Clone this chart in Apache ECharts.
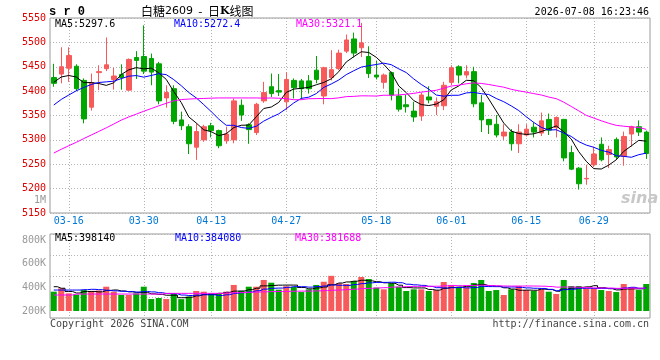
<!DOCTYPE html>
<html>
<head>
<meta charset="utf-8">
<script src="https://cdn.jsdelivr.net/npm/echarts@6/dist/echarts.min.js"></script>
<style>
  html, body { margin: 0; padding: 0; background: #fff; }
  #chart { width: 660px; height: 360px; }
</style>
</head>
<body>
<div id="chart"></div>
<script>
// trading days shown on the chart
const dates = [
  '03-12', '03-13', '03-16', '03-17', '03-18', '03-19', '03-20', '03-23', '03-24', '03-25', '03-26', '03-27',
  '03-30', '03-31', '04-01', '04-02', '04-03', '04-07', '04-08', '04-09', '04-10',
  '04-13', '04-14', '04-15', '04-16', '04-17', '04-20', '04-21', '04-22', '04-23', '04-24',
  '04-27', '04-28', '04-29', '04-30', '05-06', '05-07', '05-08', '05-11', '05-12', '05-13', '05-14', '05-15',
  '05-18', '05-19', '05-20', '05-21', '05-22', '05-25', '05-26', '05-27', '05-28', '05-29',
  '06-01', '06-02', '06-03', '06-04', '06-05', '06-08', '06-09', '06-10', '06-11', '06-12',
  '06-15', '06-16', '06-17', '06-18', '06-22', '06-23', '06-24', '06-25', '06-26',
  '06-29', '06-30', '07-01', '07-02', '07-03', '07-06', '07-07', '07-08'
];
const tickDates = ['03-16', '03-30', '04-13', '04-27', '05-18', '06-01', '06-15', '06-29'];

const open = [
  5428, 5435, 5447, 5451, 5422, 5367, 5438, 5446, 5424, 5434,
  5402, 5469, 5471, 5467, 5456, 5386, 5405, 5341, 5327, 5285,
  5300, 5329, 5319, 5298, 5300, 5371, 5331, 5315, 5380, 5409,
  5401, 5378, 5422, 5421, 5421, 5443, 5390, 5428, 5446, 5482,
  5507, 5489, 5471, 5433, 5418, 5438, 5390, 5372, 5359, 5349,
  5388, 5369, 5370, 5418, 5450, 5433, 5440, 5376, 5342, 5332,
  5308, 5316, 5292, 5310, 5326, 5314, 5342, 5325, 5342, 5274,
  5242, 5220, 5249, 5291, 5270, 5301, 5266, 5312, 5327, 5316
];
const close = [
  5416, 5450, 5473, 5405, 5343, 5417, 5440, 5454, 5431, 5428,
  5465, 5463, 5441, 5439, 5380, 5397, 5338, 5329, 5292, 5317,
  5327, 5319, 5288, 5312, 5380, 5351, 5321, 5373, 5397, 5395,
  5398, 5424, 5407, 5405, 5405, 5424, 5448, 5444, 5478, 5505,
  5478, 5499, 5436, 5429, 5433, 5392, 5363, 5368, 5347, 5392,
  5382, 5378, 5412, 5448, 5433, 5440, 5374, 5341, 5331, 5310,
  5316, 5292, 5316, 5322, 5316, 5339, 5320, 5346, 5263, 5240,
  5210, 5221, 5271, 5259, 5280, 5265, 5307, 5327, 5316, 5272
];
const low = [
  5409, 5416, 5419, 5400, 5334, 5360, 5402, 5441, 5403, 5403,
  5401, 5425, 5435, 5412, 5373, 5366, 5332, 5320, 5271, 5259,
  5296, 5305, 5283, 5292, 5293, 5339, 5292, 5310, 5376, 5388,
  5390, 5361, 5385, 5383, 5395, 5416, 5373, 5422, 5443, 5478,
  5469, 5470, 5427, 5424, 5405, 5381, 5358, 5356, 5337, 5339,
  5375, 5351, 5361, 5412, 5416, 5426, 5367, 5316, 5312, 5305,
  5300, 5278, 5273, 5307, 5305, 5308, 5310, 5305, 5256, 5238,
  5198, 5208, 5244, 5256, 5242, 5259, 5247, 5286, 5308, 5261
];
const high = [
  5456, 5490, 5490, 5455, 5426, 5436, 5453, 5510, 5448, 5455,
  5467, 5482, 5535, 5477, 5460, 5412, 5412, 5358, 5332, 5334,
  5331, 5335, 5321, 5327, 5385, 5383, 5334, 5376, 5419, 5436,
  5435, 5439, 5426, 5425, 5433, 5472, 5450, 5484, 5485, 5516,
  5520, 5540, 5492, 5462, 5436, 5440, 5405, 5392, 5378, 5397,
  5410, 5387, 5419, 5453, 5453, 5453, 5450, 5392, 5343, 5351,
  5332, 5322, 5332, 5332, 5336, 5356, 5354, 5348, 5343, 5288,
  5244, 5249, 5286, 5305, 5288, 5305, 5317, 5329, 5340, 5319
];
const volume = [
  363000, 392000, 349000, 339000, 377000, 369000, 373000, 405000, 363000, 335000,
  335000, 349000, 405000, 301000, 310000, 301000, 349000, 300000, 322000, 369000,
  363000, 349000, 344000, 363000, 420000, 369000, 405000, 405000, 462000, 439000,
  380000, 409000, 403000, 360000, 383000, 420000, 447000, 497000, 434000, 428000,
  453000, 487000, 470000, 397000, 383000, 434000, 405000, 369000, 383000, 383000,
  369000, 377000, 445000, 420000, 400000, 400000, 436000, 462000, 369000, 377000,
  335000, 383000, 411000, 377000, 369000, 383000, 363000, 344000, 462000, 411000,
  411000, 392000, 392000, 377000, 369000, 360000, 428000, 400000, 377000, 428000
];

// moving-average values at the left edge (they depend on days before the chart)
const ma5Head = [5418, 5429, 5432, 5429];
const ma10Head = [5371.5, 5383, 5392, 5400.7, 5407.5, 5413.6, 5417.7, 5419, 5420.4];
const ma30Head = [
  5273, 5280.7, 5288, 5295, 5302.6, 5310, 5317.3, 5324.7, 5332.5, 5340.5,
  5347, 5352.8, 5358.7, 5364.2, 5369.8, 5375, 5380, 5382.7, 5383.7, 5384.5,
  5385, 5385.6, 5386, 5386, 5386, 5386, 5386, 5386, 5385.5
];
const volMa5Head = [405000, 392000, 365000, 352000];
const volMa10Head = [377000, 377000, 377000, 377000, 380000, 383000, 380000, 375000, 370000];
const volMa30Head = [
  335000, 335000, 335000, 343000, 343000, 343000, 343000, 343000, 343000, 343000,
  343000, 343000, 343000, 343000, 343000, 349000, 349000, 349000, 349000, 349000,
  349000, 349000, 349000, 352000, 354000, 356000, 358000, 360000, 362000
];

const UP = '#f65a5a';
const DOWN = '#00a600';
const GRID_LINE = { color: '#b4b4b4', type: [1, 2], width: 1 };
const MONO = 'DejaVu Sans Mono';

function movingAvg(values, n, head) {
  return values.map((v, i) => {
    if (i < n - 1) return head[i];
    let s = 0;
    for (let j = i - n + 1; j <= i; j++) s += values[j];
    return +(s / n).toFixed(1);
  });
}

const showTick = (idx, val) => tickDates.indexOf(val) >= 0;
const candles = dates.map((d, i) => [open[i], close[i], low[i], high[i]]);

const chart = echarts.init(document.getElementById('chart'));

function maLine(name, data, color, xi, yi, step) {
  return {
    name: name,
    type: 'line',
    xAxisIndex: xi,
    yAxisIndex: yi,
    data: data,
    step: step ? 'middle' : false,
    symbol: 'none',
    silent: true,
    lineStyle: { color: color, width: 1 },
    z: 3,
  };
}

function txt(x, y, text, color, font, align) {
  return {
    type: 'text',
    x: x,
    y: y,
    silent: true,
    z: 10,
    style: {
      text: text,
      fill: color,
      font: font || ('10px ' + MONO),
      textAlign: align || 'left',
      textVerticalAlign: 'middle',
    },
  };
}

chart.setOption({
  animation: false,
  backgroundColor: '#fff',
  grid: [
    { left: 50, right: 10, top: 18, height: 195, show: true, borderColor: '#9a9a9a', borderWidth: 1 },
    { left: 50, right: 10, top: 234, height: 77, show: false },
    { left: 50, right: 10, top: 234, height: 84, show: true, borderColor: '#9a9a9a', borderWidth: 1 },
  ],
  xAxis: [
    {
      type: 'category', gridIndex: 0, data: dates, boundaryGap: true,
      axisLine: { show: false }, axisTick: { show: false },
      axisLabel: {
        interval: showTick, color: '#0078d7', fontFamily: MONO, fontSize: 10, margin: 3,
      },
      splitLine: { show: true, interval: showTick, alignWithLabel: true, lineStyle: GRID_LINE },
    },
    {
      type: 'category', gridIndex: 1, data: dates, boundaryGap: true,
      axisLine: { show: false }, axisTick: { show: false }, axisLabel: { show: false },
      splitLine: { show: false },
    },
    {
      type: 'category', gridIndex: 2, data: dates, boundaryGap: true,
      axisLine: { show: false }, axisTick: { show: false }, axisLabel: { show: false },
      splitLine: { show: true, interval: showTick, alignWithLabel: true, lineStyle: GRID_LINE },
    },
  ],
  yAxis: [
    {
      type: 'value', gridIndex: 0, min: 5150, max: 5550, interval: 50,
      axisLine: { show: false }, axisTick: { show: false },
      axisLabel: {
        color: '#e00000', fontFamily: MONO, fontSize: 10, margin: 4,
        padding: [0, 0, 5, 0],
        formatter: v => String(v),
      },
      splitLine: { show: true, lineStyle: GRID_LINE },
    },
    {
      type: 'value', gridIndex: 1, min: 200000, max: 850000, interval: 200000,
      axisLine: { show: false }, axisTick: { show: false },
      axisLabel: {
        color: '#999', fontFamily: MONO, fontSize: 10, margin: 4, showMaxLabel: false,
        formatter: v => (v / 1000) + 'K',
      },
      splitLine: { show: false },
    },
    {
      type: 'value', gridIndex: 2, min: 0, max: 4, interval: 1,
      axisLine: { show: false }, axisTick: { show: false }, axisLabel: { show: false },
      splitLine: { show: true, lineStyle: GRID_LINE },
    },
  ],
  series: [
    {
      name: 'K',
      type: 'candlestick',
      xAxisIndex: 0,
      yAxisIndex: 0,
      data: candles,
      barWidth: 5,
      itemStyle: { color: UP, color0: DOWN, borderColor: UP, borderColor0: DOWN, borderWidth: 1 },
      z: 2,
    },
    maLine('MA5', movingAvg(close, 5, ma5Head), '#000', 0, 0, false),
    maLine('MA10', movingAvg(close, 10, ma10Head), '#0000ff', 0, 0, false),
    maLine('MA30', movingAvg(close, 30, ma30Head), '#ff00ff', 0, 0, false),
    {
      name: 'VOL',
      type: 'bar',
      xAxisIndex: 1,
      yAxisIndex: 1,
      data: volume,
      barWidth: 6,
      itemStyle: { color: p => (close[p.dataIndex] >= open[p.dataIndex] ? UP : DOWN) },
      z: 2,
    },
    maLine('VMA5', movingAvg(volume, 5, volMa5Head), '#000', 1, 1, true),
    maLine('VMA10', movingAvg(volume, 10, volMa10Head), '#0000ff', 1, 1, true),
    maLine('VMA30', movingAvg(volume, 30, volMa30Head), '#ff00ff', 1, 1, true),
  ],
  graphic: [
    txt(49, 12, 's r 0', '#000', 'bold 12px Liberation Mono'),
    {
      type: 'text', x: 141, y: 11, silent: true, z: 10,
      style: {
        text: '{a|白糖}{b|2609}{a|  -  日}{k|K}{a|线图}',
        textVerticalAlign: 'middle',
        rich: {
          a: { fontFamily: 'Noto Sans CJK SC', fontSize: 12, color: '#000' },
          b: { fontFamily: 'DejaVu Sans', fontSize: 11, color: '#666' },
          k: { fontFamily: 'DejaVu Serif', fontSize: 11, fontWeight: 'bold', color: '#000' },
        },
      },
    },
    txt(649, 12, '2026-07-08 16:23:46', '#000', null, 'right'),
    txt(55, 24, 'MA5:5297.6', '#000'),
    txt(174, 24, 'MA10:5272.4', '#0000ff'),
    txt(296, 24, 'MA30:5321.1', '#ff00ff'),
    txt(46, 200, '1M', '#999', null, 'right'),
    txt(621, 199, 'sina', '#c8c8c8', 'italic bold 16px DejaVu Sans'),
    txt(55, 238, 'MA5:398140', '#000'),
    txt(175, 238, 'MA10:384080', '#0000ff'),
    txt(295, 238, 'MA30:381688', '#ff00ff'),
    txt(50, 324, 'Copyright 2026 SINA.COM', '#444'),
    txt(649, 324, 'http://finance.sina.com.cn', '#444', null, 'right'),
  ],
});
</script>
</body>
</html>
